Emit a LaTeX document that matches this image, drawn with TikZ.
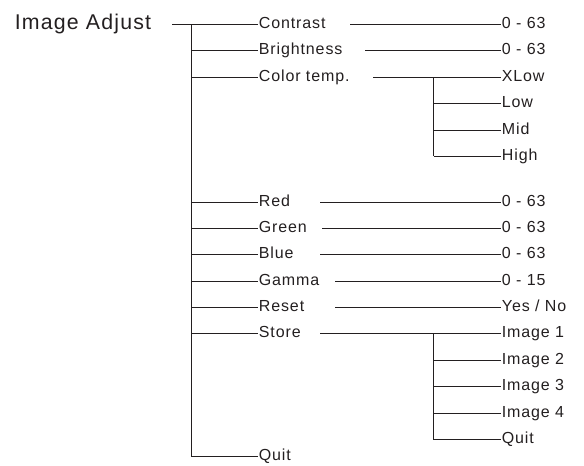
\documentclass[tikz,border=0pt]{standalone}
\usepackage{fontspec}
\setmainfont{Liberation Sans}[LetterSpace=5.5]
\definecolor{ink}{RGB}{35,31,32}

\tikzset{every picture/.style={line width=1.35pt}}
\tikzset{
	item/.style={anchor=west, inner sep=0pt, text height=6.6pt, text depth=0pt, text=ink, font=\fontsize{12}{14}\selectfont},
	title/.style={item, text height=7.4pt, font=\fontsize{16}{19}\selectfont}
}

\begin{document}
\begin{tikzpicture}[x=0.75pt,y=0.75pt,yscale=-1,xscale=1,draw=ink]
	\useasboundingbox (0,0) rectangle (584,466);
	
	% Title
	\node [title] (adjust) at (14,24.5) {Image Adjust};
	
	% First level items
	\foreach \n/\y/\t in {contrast/24.5/Contrast, brightness/50.5/Brightness, colortemp/77.5/Color temp., red/202.5/Red, green/228.5/Green, blue/254.5/Blue, gamma/281.5/Gamma, reset/307.5/Reset, store/333.5/Store, quit/456.5/Quit}
		\node [item] (\n) at (258,\y) {\t};
	
	% Values
	\foreach \n/\y/\t in {contrast-v/24.5/0 - 63, brightness-v/50.5/0 - 63, colortemp-v/77.5/XLow, low/103.5/Low, mid/130.5/Mid, high/156.5/High, red-v/202.5/0 - 63, green-v/228.5/0 - 63, blue-v/254.5/0 - 63, gamma-v/281.5/0 - 15, reset-v/307.5/{Yes / No}, store-v/333.5/Image 1, img2/360.5/Image 2, img3/386.5/Image 3, img4/413.5/Image 4, squit/439.5/Quit}
		\node [item] (\n) at (501,\y) {\t};
	
	% Trunk
	\coordinate (adjust-s) at (172,24.5);
	\coordinate (trunk) at (191.5,24.5);
	\draw (adjust-s) -- (contrast.west);
	\draw (trunk) -- (trunk |- quit.west);
	\foreach \n in {brightness, colortemp, red, green, blue, gamma, reset, store, quit}
		\draw (trunk |- \n.west) -- (\n.west);
	
	% Item to value
	\foreach \n/\x in {contrast/350, brightness/365, colortemp/373, red/320, green/322, blue/320, gamma/335, reset/335, store/320}
		\draw (\x,0 |- \n.west) -- (\n-v.west);
	
	% Sub trunks
	\coordinate (ctemp) at (433.5,77.5);
	\draw (ctemp) -- (ctemp |- high.west);
	\foreach \n in {low, mid, high}
		\draw (ctemp |- \n.west) -- (\n.west);
	
	\coordinate (simg) at (433.5,333.5);
	\draw (simg) -- (simg |- squit.west);
	\foreach \n in {img2, img3, img4, squit}
		\draw (simg |- \n.west) -- (\n.west);
\end{tikzpicture}
\end{document}
